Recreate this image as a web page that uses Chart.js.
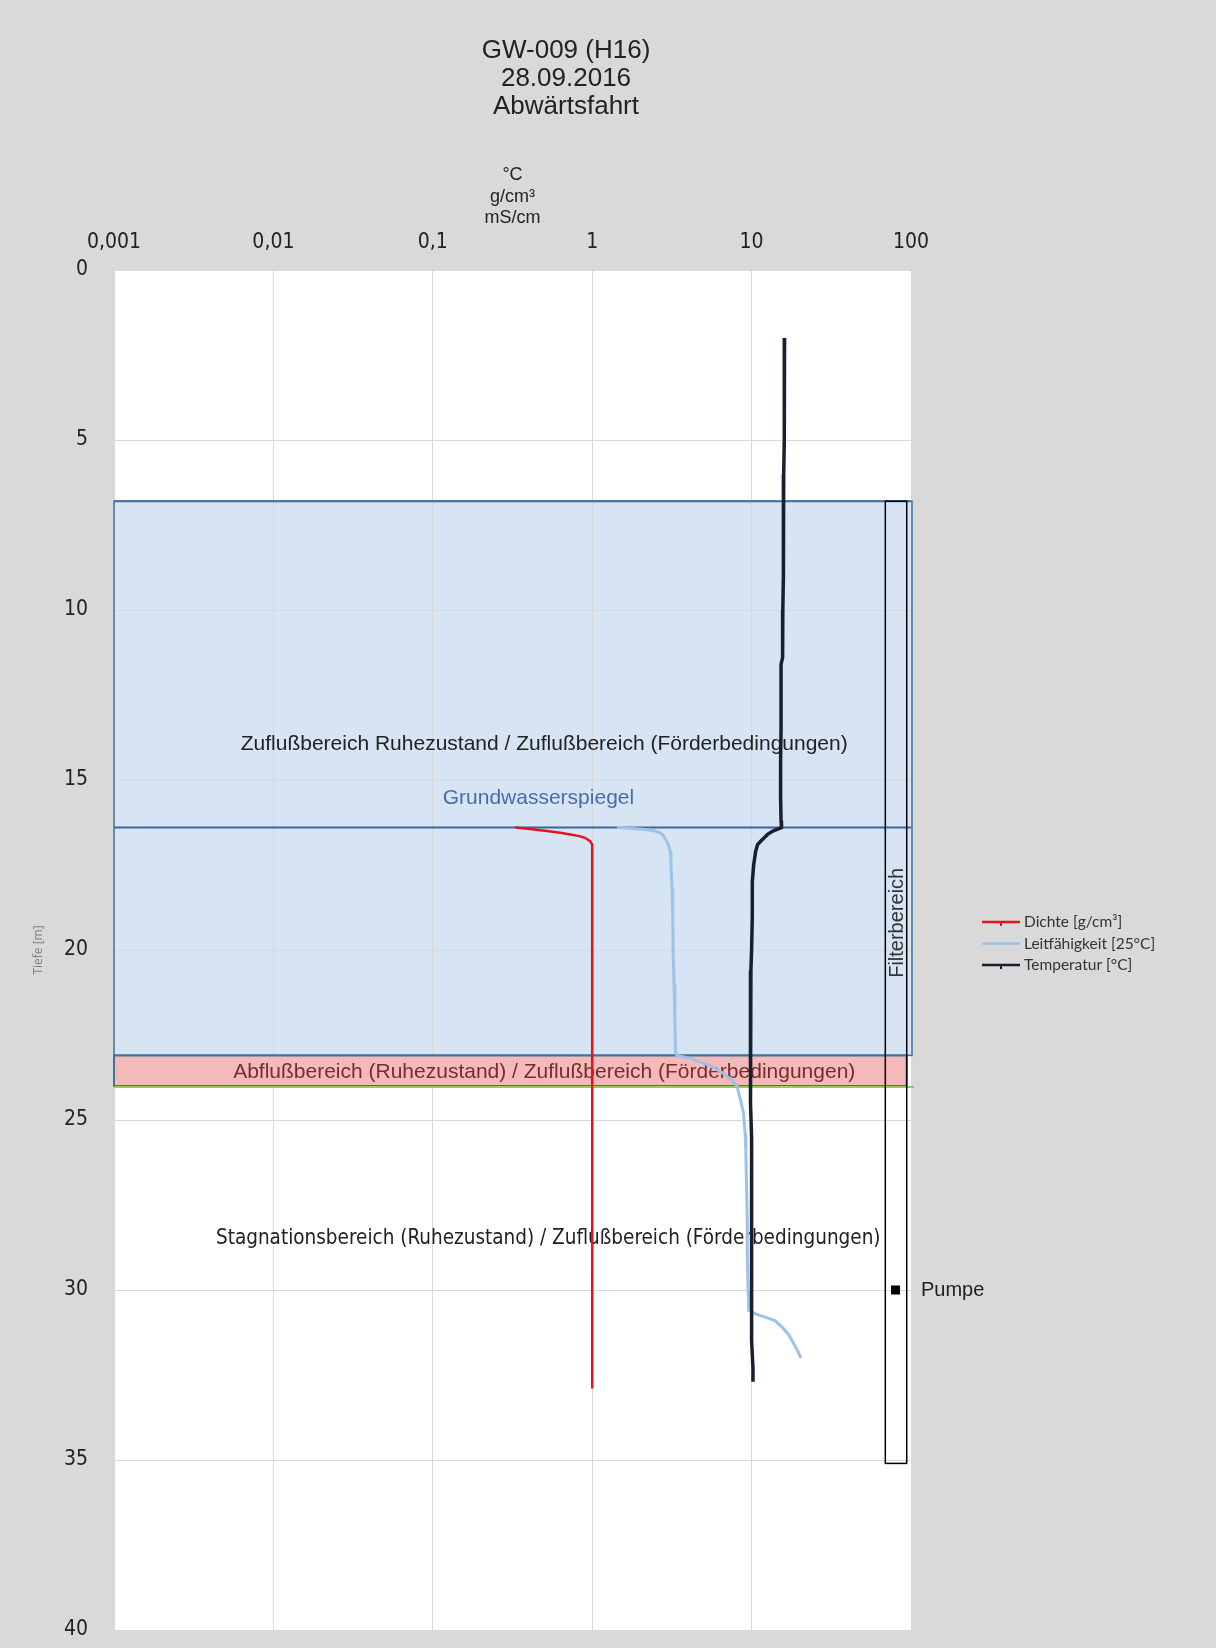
<!DOCTYPE html>
<html lang="de">
<head>
<meta charset="utf-8">
<title>GW-009 (H16) Abwärtsfahrt</title>
<script src="https://cdn.jsdelivr.net/npm/chart.js@4.4.1/dist/chart.umd.min.js"></script>
<style>
    html, body { margin: 0; padding: 0; background: #d9d9d9; overflow: hidden; }
    #wrap { width: 1216px; height: 1648px; }
</style>
</head>
<body>
<div id="wrap"><canvas id="profileChart"></canvas></div>
<script>
// Messwerte: Tiefe [m] und Wert je Sonde
const tempDepth = [2.0, 3.0, 4.0, 5.0, 6.0, 7.0, 8.0, 9.0, 10.0, 11.0, 11.4, 11.6, 12.5, 13.5, 14.5, 15.5, 16.2, 16.4, 16.5, 16.6, 16.7, 16.8, 16.9, 17.1, 17.5, 18.0, 19.0, 20.0, 20.6, 21.5, 22.5, 23.5, 24.0, 24.5, 25.5, 26.5, 27.5, 28.5, 29.5, 30.5, 31.5, 32.3, 32.7];
const tempValues = [16.1, 16.1, 16.0, 16.0, 15.9, 15.9, 15.8, 15.8, 15.7, 15.7, 15.6, 15.3, 15.3, 15.3, 15.2, 15.2, 15.3, 15.4, 13.6, 12.6, 12.0, 11.4, 10.9, 10.6, 10.3, 10.1, 10.1, 10.0, 9.9, 9.9, 9.8, 9.8, 9.8, 9.9, 10.0, 10.0, 10.0, 10.0, 10.0, 10.0, 10.0, 10.2, 10.2];

const densDepth = [16.4, 16.45, 16.5, 16.55, 16.6, 16.65, 16.7, 16.8, 16.9, 18, 20, 22, 24, 26, 26.4, 26.8, 28, 30, 32, 32.9];
const densValues = [0.33, 0.42, 0.52, 0.63, 0.73, 0.83, 0.9, 0.97, 1.0, 1.0, 1.0, 1.0, 1.0, 1.0, 1.006, 1.0, 1.0, 1.0, 1.0, 1.0];

const condDepth = [16.4, 16.45, 16.5, 16.55, 16.6, 16.7, 16.9, 17.1, 17.5, 18.2, 19, 20, 21, 22, 23, 23.1, 23.2, 23.4, 23.6, 23.8, 24.0, 24.4, 24.8, 25.4, 25.9, 27, 28, 29, 30, 30.6, 30.7, 30.8, 30.9, 31.1, 31.3, 31.5, 31.8, 32.0];
const condValues = [1.43, 2.1, 2.5, 2.66, 2.75, 2.85, 3.0, 3.09, 3.12, 3.17, 3.2, 3.22, 3.26, 3.3, 3.33, 3.4, 4.2, 5.5, 6.5, 7.4, 8.1, 8.5, 8.9, 9.1, 9.2, 9.3, 9.4, 9.4, 9.5, 9.6, 10.6, 12.2, 14.0, 15.6, 17.0, 18.0, 19.5, 20.4];

const xTicks = [0.001, 0.01, 0.1, 1, 10, 100];
const xTickLabels = ['0,001', '0,01', '0,1', '1', '10', '100'];

const chartTitle = ['GW-009 (H16)', '28.09.2016', 'Abwärtsfahrt'];

// Bereiche (Tiefe in m)
const inflowZone = [6.8, 23.1];
const outflowZone = [23.1, 24.0];
const groundwaterLevel = 16.4;
const filterZone = [6.8, 35.1];
const pumpDepth = 30;

const SANS = "'Liberation Sans', Arial, sans-serif";
const NARROW = "'Liberation Sans Narrow', 'Arial Narrow', 'DejaVu Sans Condensed', sans-serif";

function toPoints(depths, values) {
    return depths.map((d, i) => ({ x: values[i], y: d }));
}

function drawText(ctx, text, x, y, font, color) {
    ctx.font = font;
    ctx.fillStyle = color;
    ctx.fillText(text, x, y);
}

const zonesPlugin = {
    id: 'zones',
    beforeDraw(chart) {
        const { ctx, chartArea: a, scales: { y } } = chart;
        ctx.save();
        ctx.fillStyle = '#ffffff';
        ctx.fillRect(a.left, a.top, a.width, a.height);
        const t1 = y.getPixelForValue(inflowZone[0]);
        const b1 = y.getPixelForValue(inflowZone[1]);
        ctx.fillStyle = '#d6e4f3';
        ctx.fillRect(a.left, t1, a.width, b1 - t1);
        ctx.restore();
    },
    beforeDatasetsDraw(chart) {
        const { ctx, chartArea: a, scales: { x, y } } = chart;
        ctx.save();

        // Abflussbereich
        const t2 = y.getPixelForValue(outflowZone[0]);
        const b2 = y.getPixelForValue(outflowZone[1]);
        const pinkRight = x.getPixelForValue(94);
        ctx.fillStyle = '#f4b9b9';
        ctx.fillRect(a.left, t2, pinkRight - a.left, b2 - t2);

        // Zuflussbereich Rahmen
        const t1 = y.getPixelForValue(inflowZone[0]);
        const b1 = y.getPixelForValue(inflowZone[1]);
        ctx.strokeStyle = '#41719c';
        ctx.lineWidth = 1.5;
        ctx.strokeRect(a.left, t1, a.width + 1, b1 - t1);
        ctx.lineWidth = 2;
        ctx.beginPath();
        ctx.moveTo(a.left, t1);
        ctx.lineTo(a.right, t1);
        ctx.stroke();
        ctx.strokeRect(a.left, t2, pinkRight - a.left, b2 - t2);

        // Grundwasserspiegel
        const gw = y.getPixelForValue(groundwaterLevel);
        ctx.strokeStyle = '#3a66a0';
        ctx.lineWidth = 2;
        ctx.beginPath();
        ctx.moveTo(a.left, gw);
        ctx.lineTo(a.right, gw);
        ctx.stroke();

        // Grenze unten (grün)
        ctx.strokeStyle = '#92d050';
        ctx.lineWidth = 2;
        ctx.beginPath();
        ctx.moveTo(a.left, b2 + 1);
        ctx.lineTo(a.right + 3, b2 + 1);
        ctx.stroke();

        // Filterbereich
        const fl = x.getPixelForValue(69);
        const fr = x.getPixelForValue(94);
        const ft = y.getPixelForValue(filterZone[0]);
        const fb = y.getPixelForValue(filterZone[1]);
        ctx.strokeStyle = '#000000';
        ctx.lineWidth = 1.5;
        ctx.strokeRect(fl, ft, fr - fl, fb - ft);

        ctx.save();
        ctx.translate((fl + fr) / 2, y.getPixelForValue(19.2));
        ctx.rotate(-Math.PI / 2);
        ctx.textAlign = 'center';
        ctx.textBaseline = 'middle';
        drawText(ctx, 'Filterbereich', 0, 1, '20px ' + SANS, '#333333');
        ctx.restore();

        // Pumpe
        const pumpX = x.getPixelForValue(80);
        const pumpY = y.getPixelForValue(pumpDepth);
        ctx.fillStyle = '#000000';
        ctx.fillRect(pumpX - 4.5, pumpY - 4.5, 9, 9);

        // Bereichstexte
        ctx.textAlign = 'center';
        ctx.textBaseline = 'middle';
        drawText(ctx, 'Zuflußbereich Ruhezustand / Zuflußbereich (Förderbedingungen)',
            x.getPixelForValue(0.5), y.getPixelForValue(13.95), '21px ' + SANS, '#222222');
        drawText(ctx, 'Grundwasserspiegel',
            x.getPixelForValue(0.46), y.getPixelForValue(15.55), '21px ' + SANS, '#4a6ca8');
        drawText(ctx, 'Abflußbereich (Ruhezustand) / Zuflußbereich (Förderbedingungen)',
            x.getPixelForValue(0.5), y.getPixelForValue(23.58), '21px ' + SANS, '#7b2b2b');
        drawText(ctx, 'Stagnationsbereich (Ruhezustand) / Zuflußbereich (Förderbedingungen)',
            x.getPixelForValue(0.53), y.getPixelForValue(28.5), '20.5px ' + NARROW, '#222222');

        ctx.restore();
    },
    afterDraw(chart) {
        const { ctx, chartArea: a, scales: { y } } = chart;
        ctx.save();

        // Titel
        ctx.textAlign = 'center';
        ctx.textBaseline = 'middle';
        chartTitle.forEach((line, i) => {
            drawText(ctx, line, 566, 51 + i * 28, '26px ' + SANS, '#222222');
        });

        ctx.textAlign = 'left';
        drawText(ctx, 'Pumpe', a.right + 10, y.getPixelForValue(pumpDepth), '20px ' + SANS, '#222222');

        // Legende
        chart.data.datasets.forEach((ds, i) => {
            const ly = 922 + i * 21.5;
            ctx.strokeStyle = ds.borderColor;
            ctx.lineWidth = 2.5;
            ctx.beginPath();
            ctx.moveTo(982, ly);
            ctx.lineTo(1020, ly);
            ctx.stroke();
            if (ds.legendTick) {
                ctx.fillStyle = ds.borderColor;
                ctx.fillRect(1000, ly, 2, 4);
            }
            drawText(ctx, ds.label, 1024, ly, '15.5px Lato, ' + SANS, '#333333');
        });
        ctx.restore();
    }
};

new Chart(document.getElementById('profileChart'), {
    type: 'scatter',
    data: {
        datasets: [
            {
                label: 'Dichte [g/cm³]',
                data: toPoints(densDepth, densValues),
                borderColor: '#e3141c',
                borderWidth: 2.5,
                showLine: true,
                pointRadius: 0,
                legendTick: true,
                order: 1
            },
            {
                label: 'Leitfähigkeit [25°C]',
                data: toPoints(condDepth, condValues),
                borderColor: '#9dc3e6',
                borderWidth: 3,
                showLine: true,
                pointRadius: 0,
                order: 2
            },
            {
                label: 'Temperatur [°C]',
                data: toPoints(tempDepth, tempValues),
                borderColor: '#17202e',
                borderWidth: 3.5,
                showLine: true,
                pointRadius: 0,
                legendTick: true,
                order: 0
            }
        ]
    },
    options: {
        responsive: true,
        maintainAspectRatio: false,
        animation: false,
        layout: {
            padding: { left: 0, right: 305, top: 119, bottom: 18 }
        },
        plugins: {
            legend: { display: false },
            tooltip: { enabled: false },
            title: { display: false }
        },
        scales: {
            x: {
                type: 'logarithmic',
                position: 'top',
                min: 0.001,
                max: 100,
                afterBuildTicks: scale => {
                    scale.ticks = xTicks.map(v => ({ value: v }));
                },
                afterFit: scale => {
                    scale.height = 151;
                    scale.paddingLeft = 0;
                    scale.paddingRight = 0;
                },
                ticks: {
                    autoSkip: false,
                    maxRotation: 0,
                    padding: 15,
                    color: '#222222',
                    font: { family: NARROW, size: 21 },
                    callback: (value, index) => xTickLabels[index]
                },
                grid: { color: '#d9d9d9', drawTicks: false },
                border: { color: '#d9d9d9' },
                title: {
                    display: true,
                    text: ['°C', 'g/cm³', 'mS/cm'],
                    color: '#222222',
                    font: { family: SANS, size: 18, lineHeight: '21.7px' },
                    padding: { top: 45, bottom: 0 }
                }
            },
            y: {
                type: 'linear',
                reverse: true,
                min: 0,
                max: 40,
                afterFit: scale => {
                    scale.width = 114;
                    scale.paddingTop = 0;
                    scale.paddingBottom = 0;
                },
                ticks: {
                    stepSize: 5,
                    padding: 26,
                    color: '#222222',
                    font: { family: NARROW, size: 21 }
                },
                grid: { color: '#d9d9d9', drawTicks: false },
                border: { color: '#d9d9d9' },
                title: {
                    display: true,
                    text: 'Tiefe [m]',
                    color: '#808080',
                    font: { family: "'Open Sans', " + SANS, size: 12 },
                    padding: { top: 31, bottom: 0 }
                }
            }
        }
    },
    plugins: [zonesPlugin]
});
</script>
</body>
</html>
